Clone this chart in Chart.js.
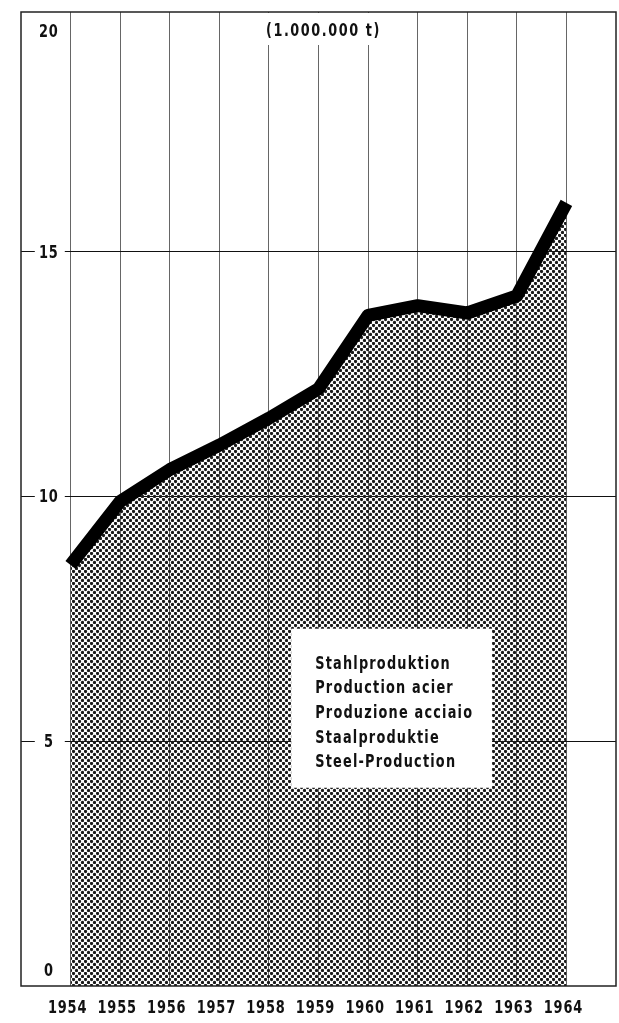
<!DOCTYPE html>
<html>
<head>
<meta charset="utf-8">
<title>Stahlproduktion 1954-1964</title>
<script src="https://cdn.jsdelivr.net/npm/chart.js@4.4.1/dist/chart.umd.min.js"></script>
<style>
    html, body { margin: 0; padding: 0; background: #fff; }
    #wrap { width: 619px; height: 1023px; position: relative; }
</style>
</head>
<body>
<div id="wrap"><canvas id="myChart"></canvas></div>
<script>
// Data (million tonnes)
const years = [1954, 1955, 1956, 1957, 1958, 1959, 1960, 1961, 1962, 1963, 1964];
const steelOutput = [8.6, 9.9, 10.55, 11.05, 11.6, 12.2, 13.7, 13.9, 13.75, 14.1, 16.0];
const yTickLabels = [0, 5, 10, 15, 20];
const unitLabel = "(1.000.000 t)";
const legendLines = [
    "Stahlproduktion",
    "Production acier",
    "Produzione acciaio",
    "Staalproduktie",
    "Steel-Production"
];

const narrowFont = "'DejaVu Sans Condensed', 'DejaVu Sans', sans-serif";

// Halftone dot pattern for the area under the line
function dotPattern(ctx) {
    const tile = document.createElement("canvas");
    tile.width = 6;
    tile.height = 6;
    const g = tile.getContext("2d");
    g.fillStyle = "#1a1a1a";
    [[1.5, 1.5], [4.5, 4.5]].forEach(([cx, cy]) => {
        g.beginPath();
        g.arc(cx, cy, 1.65, 0, Math.PI * 2);
        g.fill();
    });
    return ctx.createPattern(tile, "repeat");
}

// The printed lettering is a tall condensed face, so squeeze the text horizontally
function narrowText(ctx, text, x, y, sx) {
    ctx.save();
    ctx.translate(x, y);
    ctx.scale(sx, 1);
    ctx.fillText(text, 0, 0);
    ctx.restore();
}

// Draws the frame, axis labels, unit and the multilingual caption
const decorations = {
    id: "decorations",
    afterDatasetsDraw(chart) {
        const { ctx, chartArea: area, scales: { x, y } } = chart;
        ctx.save();
        ctx.textBaseline = "middle";
        ctx.textAlign = "center";

        // unit label at the top
        ctx.font = "bold 18px " + narrowFont;
        ctx.letterSpacing = "2px";
        const ux = x.getPixelForValue(1959.1);
        ctx.fillStyle = "#fff";
        ctx.fillRect(ux - 62, area.top + 1, 124, 32);
        ctx.fillStyle = "#111";
        narrowText(ctx, unitLabel, ux, area.top + 19, 115 / ctx.measureText(unitLabel).width);

        // y values in the left column
        ctx.font = "bold 18px " + narrowFont;
        ctx.letterSpacing = "1px";
        const lx = (area.left + x.getPixelForValue(years[0])) / 2 + 3;
        yTickLabels.forEach(v => {
            let py = y.getPixelForValue(v);
            if (v === 0) py -= 16;
            if (v === yTickLabels[yTickLabels.length - 1]) py = area.top + 19;
            ctx.fillStyle = "#fff";
            ctx.fillRect(lx - 14, py - 8, 30, 16);
            ctx.fillStyle = "#111";
            narrowText(ctx, String(v), lx, py + 1, 0.8);
        });

        // year labels under the frame, taken from the x scale ticks
        x.ticks.forEach(t => {
            narrowText(ctx, String(t.value), x.getPixelForValue(t.value) - 3, area.bottom + 22, 0.8);
        });

        // caption box
        const bx0 = x.getPixelForValue(1958.45);
        const bx1 = x.getPixelForValue(1962.5);
        const by0 = y.getPixelForValue(7.3);
        const by1 = y.getPixelForValue(4.05);
        ctx.fillStyle = "#fff";
        ctx.fillRect(bx0, by0, bx1 - bx0, by1 - by0);
        ctx.fillStyle = "#111";
        ctx.textAlign = "left";
        ctx.textBaseline = "alphabetic";
        ctx.font = "bold 18px " + narrowFont;
        ctx.letterSpacing = "1.5px";
        const widest = Math.max(...legendLines.map(l => ctx.measureText(l).width));
        const sx = 158 / widest;
        legendLines.forEach((line, i) => {
            narrowText(ctx, line, bx0 + 24, by0 + 40 + i * 24.6, sx);
        });

        // outer frame
        ctx.letterSpacing = "0px";
        ctx.strokeStyle = "#222";
        ctx.lineWidth = 1.5;
        ctx.strokeRect(area.left, area.top, area.right - area.left, area.bottom - area.top);
        ctx.restore();
    }
};

const ctx = document.getElementById("myChart").getContext("2d");
const chartInstance = new Chart(ctx, {
    type: "line",
    data: {
        datasets: [{
            label: "Steel-Production",
            data: years.map((yr, i) => ({ x: yr, y: steelOutput[i] })),
            borderColor: "#000",
            borderWidth: 13,
            borderJoinStyle: "round",
            borderCapStyle: "butt",
            backgroundColor: dotPattern(ctx),
            fill: "origin",
            pointRadius: 0,
            tension: 0
        }]
    },
    options: {
        responsive: true,
        maintainAspectRatio: false,
        animation: false,
        layout: { padding: { left: 21, right: 3, top: 12, bottom: 37 } },
        plugins: {
            legend: { display: false },
            tooltip: { enabled: false }
        },
        scales: {
            x: {
                type: "linear",
                min: 1953,
                max: 1965,
                afterBuildTicks: scale => { scale.ticks = years.map(v => ({ value: v })); },
                grid: { color: "#666", lineWidth: 1, drawTicks: false },
                border: { display: false },
                ticks: { display: false }
            },
            y: {
                min: 0,
                max: 19.9,
                afterBuildTicks: scale => {
                    scale.ticks = yTickLabels.filter(v => v > 0 && v < 20).map(v => ({ value: v }));
                },
                grid: { color: "#111", lineWidth: 1, drawTicks: false },
                border: { display: false },
                ticks: { display: false }
            }
        }
    },
    plugins: [decorations]
});
</script>
</body>
</html>
